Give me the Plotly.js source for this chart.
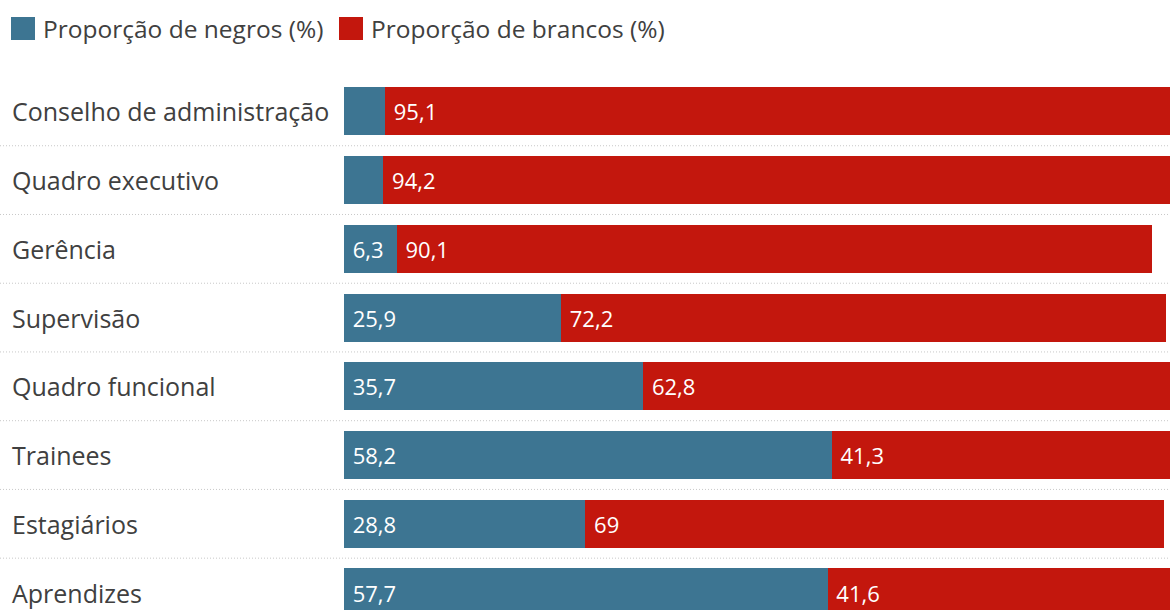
<!DOCTYPE html>
<html>
<head>
<meta charset="utf-8">
<script src="https://cdn.plot.ly/plotly-3.0.1.min.js"></script>
<style>html,body{margin:0;padding:0;background:#fff;}#chart{width:1170px;height:610px;}</style>
</head>
<body>
<div id="chart"></div>
<script>
var categories = ["Conselho de administração", "Quadro executivo", "Gerência", "Supervisão", "Quadro funcional", "Trainees", "Estagiários", "Aprendizes"];
var negros = [4.9, 4.7, 6.3, 25.9, 35.7, 58.2, 28.8, 57.7];
var brancos = [95.1, 94.2, 90.1, 72.2, 62.8, 41.3, 69, 41.6];
var seriesNames = ["Proporção de negros (%)", "Proporção de brancos (%)"];
var colors = ["#3d7592", "#c3170d"];

function fmt(v) { return v < 5 ? "" : "\u00a0" + String(v).replace(".", ","); }

var W = 1170, H = 610, L = 344, T = 77;
var plotW = W - L;

var traces = [negros, brancos].map(function (vals, i) {
  return {
    type: "bar",
    orientation: "h",
    name: seriesNames[i],
    y: categories,
    x: vals,
    text: vals.map(fmt),
    textposition: "inside",
    insidetextanchor: "start",
    textangle: 0,
    insidetextfont: { family: "Open Sans", size: 22, color: "#ffffff" },
    marker: { color: colors[i], line: { width: 0 } },
    hoverinfo: "none",
    cliponaxis: true
  };
});

var shapes = [];
var annotations = [];
for (var k = 0; k < categories.length - 1; k++) {
  shapes.push({
    type: "line", xref: "paper", yref: "y",
    x0: -L / plotW, x1: 1, y0: k + 0.5, y1: k + 0.5,
    line: { color: "#c8c8c8", width: 1, dash: "1px,2px" }, layer: "below"
  });
}
categories.forEach(function (c) {
  annotations.push({
    xref: "paper", yref: "y", x: (10 - L) / plotW, y: c,
    xanchor: "left", yanchor: "middle", showarrow: false, text: c,
    font: { family: "Open Sans", size: 25, color: "#404040" }
  });
});
// legend
var legX = [11, 339];
seriesNames.forEach(function (n, i) {
  shapes.push({
    type: "rect", xref: "paper", yref: "paper",
    x0: (legX[i] - L) / plotW, x1: (legX[i] + 24 - L) / plotW,
    y0: 1 + (T - 17) / (H - T), y1: 1 + (T - 40) / (H - T),
    fillcolor: colors[i], line: { width: 0 }
  });
  annotations.push({
    xref: "paper", yref: "paper", x: (legX[i] + 30 - L) / plotW, y: 1 + (T - 29) / (H - T),
    xanchor: "left", yanchor: "middle", showarrow: false, text: n,
    font: { family: "Open Sans", size: 24.5, color: "#404040" }
  });
});

var layout = {
  width: W, height: H,
  margin: { l: L, r: 0, t: T, b: 0, pad: 0 },
  barmode: "stack",
  bargap: 0.3,
  showlegend: false,
  paper_bgcolor: "#ffffff",
  plot_bgcolor: "#ffffff",
  xaxis: { range: [0, 98.55], showgrid: false, zeroline: false, showticklabels: false, ticks: "", fixedrange: true },
  yaxis: { type: "category", range: [7.254, -0.5], autorange: false, showgrid: false, zeroline: false, showticklabels: false, ticks: "", fixedrange: true },
  shapes: shapes,
  annotations: annotations
};

Plotly.newPlot("chart", traces, layout, { displayModeBar: false, staticPlot: true });
</script>
</body>
</html>
